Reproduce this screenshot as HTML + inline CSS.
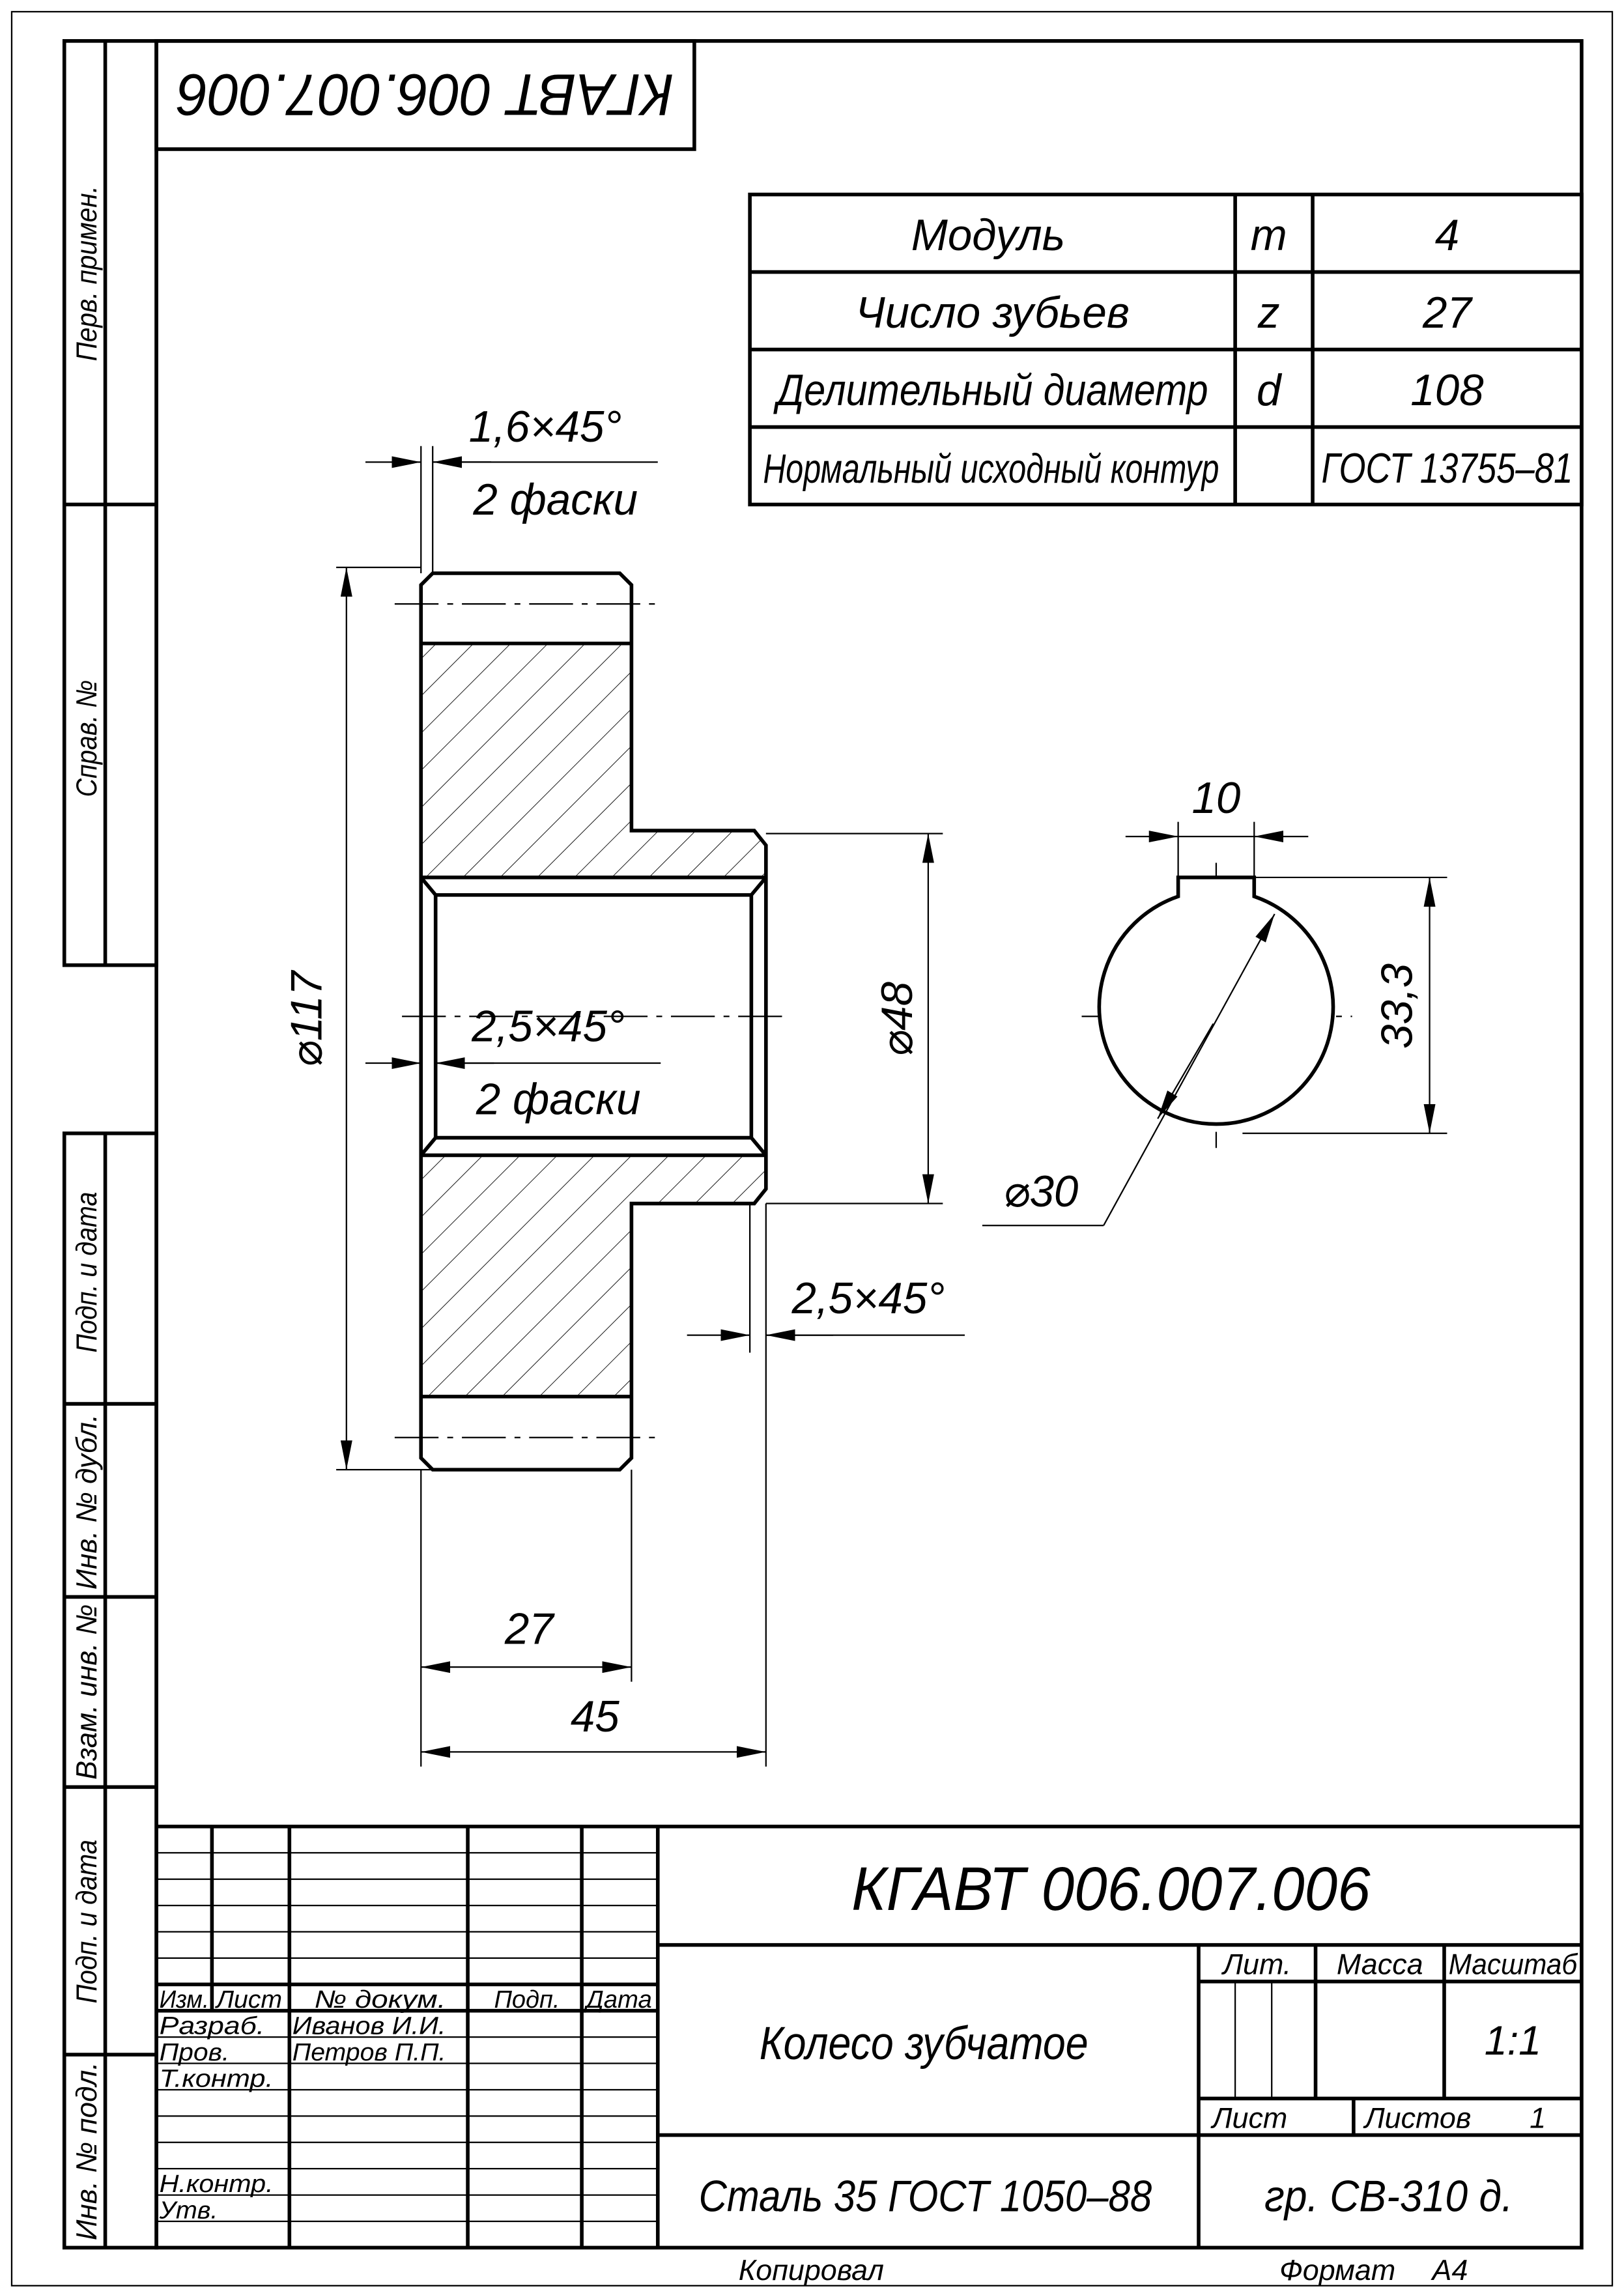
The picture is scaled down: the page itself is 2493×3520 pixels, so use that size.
<!DOCTYPE html>
<html><head><meta charset="utf-8"><style>
html,body{margin:0;padding:0;background:#fff}
svg{display:block}
text{font-family:"Liberation Sans","DejaVu Sans",sans-serif;font-style:italic;fill:#000}
</style></head><body>
<svg width="2493" height="3520" viewBox="0 0 1111 1568" preserveAspectRatio="none" xmlns="http://www.w3.org/2000/svg">
<defs>
<marker id="a" viewBox="0 0 20 8" refX="20" refY="4" markerWidth="20" markerHeight="8" markerUnits="userSpaceOnUse" orient="auto-start-reverse"><path d="M0,0 L20,4 L0,8z" fill="#000"/></marker>
<pattern id="h" patternUnits="userSpaceOnUse" width="18" height="18" patternTransform="rotate(45)"><line x1="0" y1="0" x2="0" y2="18" stroke="#000" stroke-width="0.8"/></pattern>
</defs>
<rect x="0" y="0" width="1111" height="1568" fill="#fff"/>
<rect x="8" y="8" width="1095" height="1555" fill="none" stroke="#000" stroke-width="1"/>
<g fill="none" stroke="#000" stroke-width="2.5">
<rect x="107" y="28" width="975" height="1509"/>
<rect x="44" y="28" width="63" height="632"/>
<line x1="72" y1="28" x2="72" y2="660"/>
<line x1="44" y1="345" x2="107" y2="345"/>
<rect x="44" y="775" width="63" height="762"/>
<line x1="72" y1="775" x2="72" y2="1537"/>
<line x1="44" y1="960" x2="107" y2="960"/>
<line x1="44" y1="1092" x2="107" y2="1092"/>
<line x1="44" y1="1222" x2="107" y2="1222"/>
<line x1="44" y1="1405" x2="107" y2="1405"/>
<rect x="107" y="28" width="368" height="74"/>
<rect x="513" y="133" width="569" height="212"/>
<line x1="513" y1="186" x2="1082" y2="186"/>
<line x1="513" y1="239" x2="1082" y2="239"/>
<line x1="513" y1="292" x2="1082" y2="292"/>
<line x1="845" y1="133" x2="845" y2="345"/>
<line x1="898" y1="133" x2="898" y2="345"/>
</g>
<g font-size="20">
<text transform="translate(66,345) rotate(-90)" x="98" textLength="120" lengthAdjust="spacingAndGlyphs">Перв. примен.</text>
<text transform="translate(66,660) rotate(-90)" x="115" textLength="80" lengthAdjust="spacingAndGlyphs">Справ. №</text>
<text transform="translate(66,960) rotate(-90)" x="35" textLength="110" lengthAdjust="spacingAndGlyphs">Подп. и дата</text>
<text transform="translate(66,1092) rotate(-90)" x="5" textLength="120" lengthAdjust="spacingAndGlyphs">Инв. № дубл.</text>
<text transform="translate(66,1222) rotate(-90)" x="5" textLength="120" lengthAdjust="spacingAndGlyphs">Взам. инв. №</text>
<text transform="translate(66,1405) rotate(-90)" x="35" textLength="112" lengthAdjust="spacingAndGlyphs">Подп. и дата</text>
<text transform="translate(66,1537) rotate(-90)" x="5" textLength="122" lengthAdjust="spacingAndGlyphs">Инв. № подл.</text>
</g>
<text transform="translate(291,65) rotate(180)" font-size="40" text-anchor="middle" dy="14" textLength="340" lengthAdjust="spacingAndGlyphs">КГАВТ 006.007.006</text>
<g font-size="30" text-anchor="middle">
<text x="676" y="171">Модуль</text><text x="868" y="171">m</text><text x="990" y="171">4</text>
<text x="679" y="224">Число зубьев</text><text x="868" y="224">z</text><text x="990" y="224">27</text>
<text x="679" y="277" textLength="295" lengthAdjust="spacingAndGlyphs">Делительный диаметр</text><text x="868" y="277">d</text><text x="990" y="277">108</text>
<text x="678" y="330" font-size="28" textLength="312" lengthAdjust="spacingAndGlyphs">Нормальный исходный контур</text><text x="990" y="330" font-size="29" textLength="172" lengthAdjust="spacingAndGlyphs">ГОСТ 13755–81</text>
</g>

<path d="M288,440 H432 V568 H516 L524,578 V600 H288z M288,790 H524 V813 L516,823 H432 V955 H288z" fill="url(#h)"/>
<g fill="none" stroke="#000" stroke-width="2.5">
<path d="M296,392 H424 L432,400 V568 H516 L524,578 V813 L516,823 H432 V997 L424,1005 H296 L288,997 V400z"/>
<line x1="288" y1="440" x2="432" y2="440"/>
<line x1="288" y1="955" x2="432" y2="955"/>
<line x1="288" y1="600" x2="524" y2="600"/>
<line x1="288" y1="790" x2="524" y2="790"/>
<path d="M288,600 L298,612 H514 L524,600 M288,790 L298,778 H514 L524,790"/>
<line x1="298" y1="612" x2="298" y2="778"/>
<line x1="514" y1="612" x2="514" y2="778"/>
</g>
<g stroke="#000" stroke-width="1" stroke-dasharray="30,6,4,6" fill="none">
<line x1="270" y1="413" x2="450" y2="413"/>
<line x1="270" y1="983" x2="450" y2="983"/>
<line x1="275" y1="695" x2="540" y2="695"/>
<line x1="740" y1="695" x2="925" y2="695"/>
<line x1="832" y1="590" x2="832" y2="785"/>
</g>
<g stroke="#000" stroke-width="1" fill="none">
<line x1="230" y1="388" x2="288" y2="388"/>
<line x1="230" y1="1005" x2="296" y2="1005"/>
<line x1="237" y1="388" x2="237" y2="1005" marker-start="url(#a)" marker-end="url(#a)"/>
<line x1="524" y1="570" x2="645" y2="570"/>
<line x1="524" y1="823" x2="645" y2="823"/>
<line x1="635" y1="570" x2="635" y2="823" marker-start="url(#a)" marker-end="url(#a)"/>
<line x1="288" y1="1005" x2="288" y2="1208"/>
<line x1="432" y1="1005" x2="432" y2="1150"/>
<line x1="524" y1="823" x2="524" y2="1208"/>
<line x1="513" y1="823" x2="513" y2="925"/>
<line x1="288" y1="1140" x2="432" y2="1140" marker-start="url(#a)" marker-end="url(#a)"/>
<line x1="288" y1="1198" x2="524" y2="1198" marker-start="url(#a)" marker-end="url(#a)"/>
<line x1="288" y1="305" x2="288" y2="392"/>
<line x1="296" y1="305" x2="296" y2="392"/>
<line x1="250" y1="316" x2="288" y2="316" marker-end="url(#a)"/>
<line x1="336" y1="316" x2="296" y2="316" marker-end="url(#a)"/>
<line x1="296" y1="316" x2="450" y2="316"/>
<line x1="250" y1="727" x2="288" y2="727" marker-end="url(#a)"/>
<line x1="338" y1="727" x2="298" y2="727" marker-end="url(#a)"/>
<line x1="298" y1="727" x2="452" y2="727"/>
<line x1="470" y1="913" x2="513" y2="913" marker-end="url(#a)"/>
<line x1="570" y1="913" x2="524" y2="913" marker-end="url(#a)"/>
<line x1="524" y1="913" x2="660" y2="913"/>
</g>
<g font-size="30" text-anchor="middle">
<text transform="translate(220,697) rotate(-90)">⌀117</text>
<text transform="translate(624,697) rotate(-90)">⌀48</text>
<text x="362" y="1124">27</text>
<text x="407" y="1184">45</text>
<text x="373" y="302">1,6×45°</text>
<text x="380" y="352">2 фаски</text>
<text x="375" y="712">2,5×45°</text>
<text x="382" y="762">2 фаски</text>
<text x="594" y="898">2,5×45°</text>
</g>
<path d="M806,613 A80,80 0 1,0 858,613 V600 H806z" fill="#fff" stroke="#000" stroke-width="2.5"/>
<g stroke="#000" stroke-width="1" fill="none">
<line x1="806" y1="600" x2="806" y2="562"/>
<line x1="858" y1="600" x2="858" y2="562"/>
<line x1="770" y1="572" x2="806" y2="572" marker-end="url(#a)"/>
<line x1="895" y1="572" x2="858" y2="572" marker-end="url(#a)"/>
<line x1="806" y1="572" x2="858" y2="572"/>
<line x1="858" y1="600" x2="990" y2="600"/>
<line x1="850" y1="775" x2="990" y2="775"/>
<line x1="978" y1="600" x2="978" y2="775" marker-start="url(#a)" marker-end="url(#a)"/>
<line x1="755" y1="838" x2="872" y2="625" marker-end="url(#a)"/>
<line x1="830" y1="700" x2="792" y2="765" marker-end="url(#a)"/>
<line x1="755" y1="838" x2="672" y2="838"/>
</g>
<g font-size="30" text-anchor="middle">
<text x="832" y="556">10</text>
<text transform="translate(966,688) rotate(-90)">33,3</text>
<text x="712" y="825">⌀30</text>
</g>

<g fill="none" stroke="#000" stroke-width="2.5">
<line x1="107" y1="1249" x2="1082" y2="1249"/>
<line x1="450" y1="1249" x2="450" y2="1537"/>
<line x1="145" y1="1249" x2="145" y2="1375"/>
<line x1="198" y1="1249" x2="198" y2="1537"/>
<line x1="320" y1="1249" x2="320" y2="1537"/>
<line x1="398" y1="1249" x2="398" y2="1537"/>
<line x1="107" y1="1357" x2="450" y2="1357"/>
<line x1="107" y1="1375" x2="450" y2="1375"/>
<line x1="450" y1="1330" x2="1082" y2="1330"/>
<line x1="450" y1="1460" x2="1082" y2="1460"/>
<line x1="820" y1="1330" x2="820" y2="1537"/>
<line x1="900" y1="1330" x2="900" y2="1435"/>
<line x1="988" y1="1330" x2="988" y2="1435"/>
<line x1="820" y1="1355" x2="1082" y2="1355"/>
<line x1="820" y1="1435" x2="1082" y2="1435"/>
<line x1="926" y1="1435" x2="926" y2="1460"/>
</g>
<g fill="none" stroke="#000" stroke-width="1">
<line x1="107" y1="1267" x2="450" y2="1267"/>
<line x1="107" y1="1285" x2="450" y2="1285"/>
<line x1="107" y1="1303" x2="450" y2="1303"/>
<line x1="107" y1="1321" x2="450" y2="1321"/>
<line x1="107" y1="1339" x2="450" y2="1339"/>
<line x1="107" y1="1393" x2="450" y2="1393"/>
<line x1="107" y1="1411" x2="450" y2="1411"/>
<line x1="107" y1="1429" x2="450" y2="1429"/>
<line x1="107" y1="1447" x2="450" y2="1447"/>
<line x1="107" y1="1465" x2="450" y2="1465"/>
<line x1="107" y1="1483" x2="450" y2="1483"/>
<line x1="107" y1="1501" x2="450" y2="1501"/>
<line x1="107" y1="1519" x2="450" y2="1519"/>
<line x1="845" y1="1355" x2="845" y2="1435"/>
<line x1="870" y1="1355" x2="870" y2="1435"/>
</g>
<g font-size="17">
<text x="109" y="1373" textLength="34" lengthAdjust="spacingAndGlyphs">Изм.</text><text x="148" y="1373" textLength="45" lengthAdjust="spacingAndGlyphs">Лист</text><text x="215" y="1373" textLength="90" lengthAdjust="spacingAndGlyphs">№ докум.</text><text x="338" y="1373" textLength="45" lengthAdjust="spacingAndGlyphs">Подп.</text><text x="401" y="1373" textLength="45" lengthAdjust="spacingAndGlyphs">Дата</text>
<text x="109" y="1391" textLength="72" lengthAdjust="spacingAndGlyphs">Разраб.</text><text x="200" y="1391" textLength="105" lengthAdjust="spacingAndGlyphs">Иванов И.И.</text>
<text x="109" y="1409" textLength="48" lengthAdjust="spacingAndGlyphs">Пров.</text><text x="200" y="1409" textLength="105" lengthAdjust="spacingAndGlyphs">Петров П.П.</text>
<text x="109" y="1427" textLength="78" lengthAdjust="spacingAndGlyphs">Т.контр.</text>
<text x="109" y="1499" textLength="78" lengthAdjust="spacingAndGlyphs">Н.контр.</text>
<text x="109" y="1517" textLength="40" lengthAdjust="spacingAndGlyphs">Утв.</text>
</g>
<g text-anchor="middle">
<text x="760" y="1306" font-size="42" textLength="355" lengthAdjust="spacingAndGlyphs">КГАВТ 006.007.006</text>
<text x="632" y="1408" font-size="32" textLength="225" lengthAdjust="spacingAndGlyphs">Колесо зубчатое</text>
<text x="860" y="1350" font-size="20">Лит.</text>
<text x="944" y="1350" font-size="20">Масса</text>
<text x="1035" y="1350" font-size="20" textLength="88" lengthAdjust="spacingAndGlyphs">Масштаб</text>
<text x="1035" y="1405" font-size="28">1:1</text>
<text x="855" y="1455" font-size="20">Лист</text>
<text x="970" y="1455" font-size="20">Листов</text>
<text x="1052" y="1455" font-size="20">1</text>
<text x="633" y="1512" font-size="30" textLength="310" lengthAdjust="spacingAndGlyphs">Сталь 35 ГОСТ 1050–88</text>
<text x="950" y="1512" font-size="30" textLength="170" lengthAdjust="spacingAndGlyphs">гр. СВ-310 д.</text>
<text x="555" y="1559" font-size="20">Копировал</text>
<text x="915" y="1559" font-size="20">Формат</text>
<text x="992" y="1559" font-size="20">А4</text>
</g>
</svg>
</body></html>
